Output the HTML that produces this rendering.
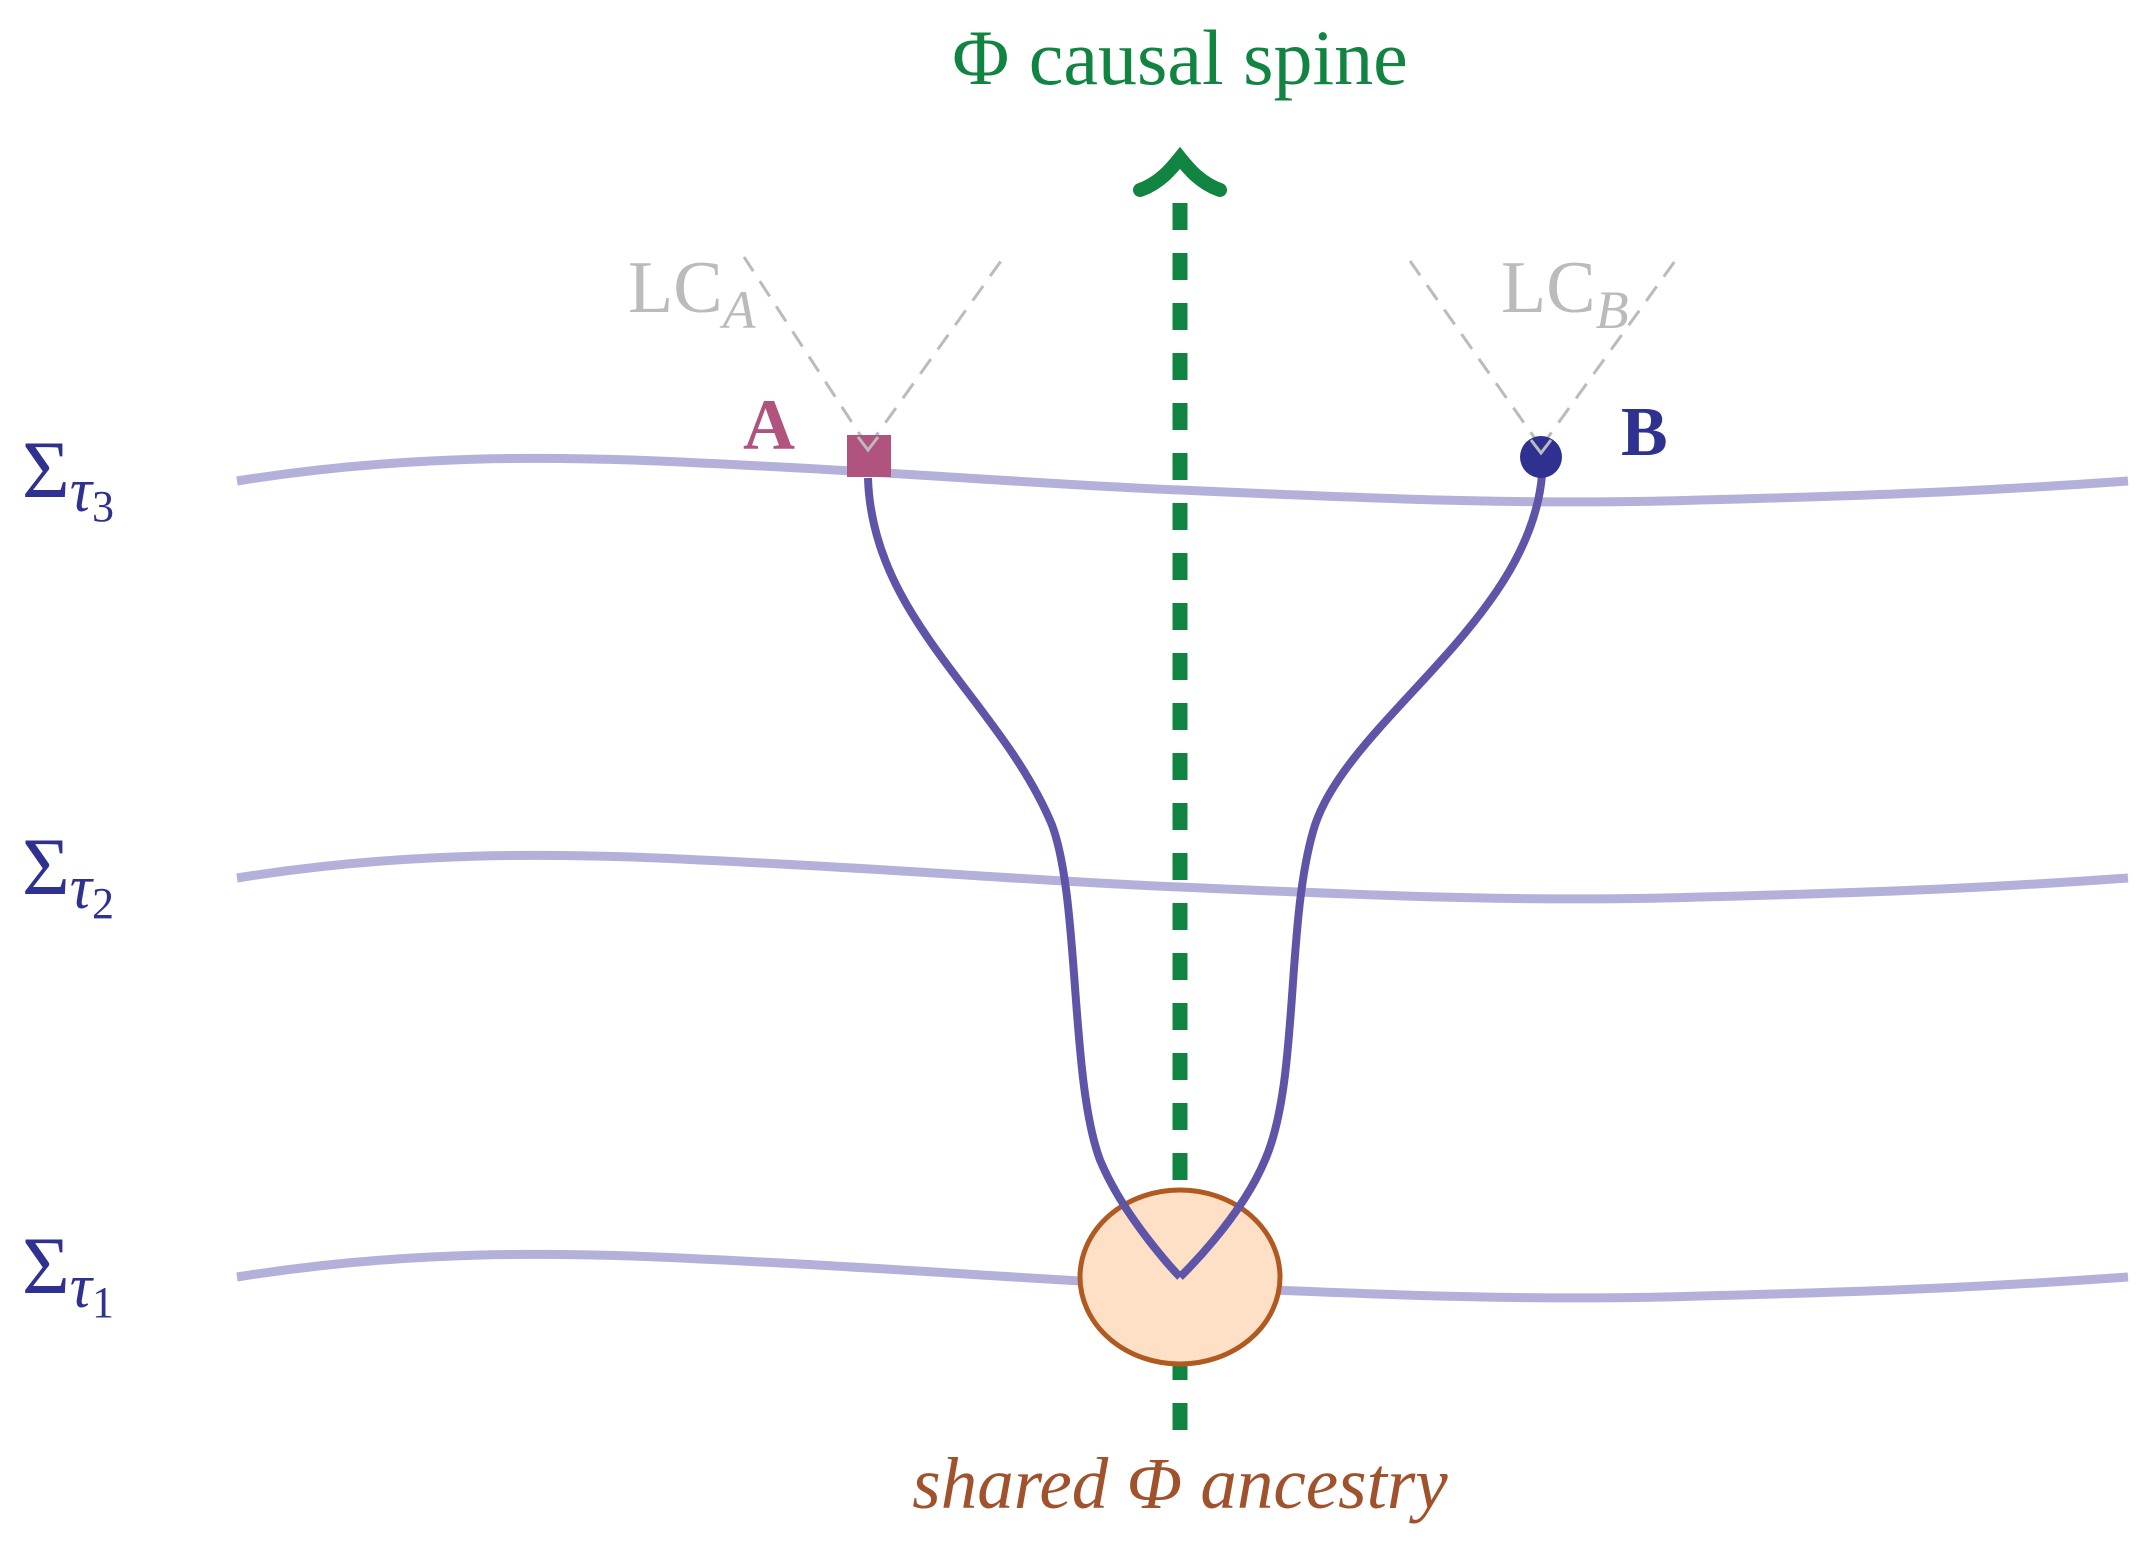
<!DOCTYPE html>
<html><head><meta charset="utf-8"><style>
html,body{margin:0;padding:0;background:#fff}
svg{display:block}
text{font-family:"Liberation Serif",serif}
</style></head><body>
<svg width="2150" height="1555" viewBox="0 0 2150 1555" xmlns="http://www.w3.org/2000/svg">
<g fill="none" stroke="#b3b0da" stroke-width="9">
<path d="M237,481 C400,455 550,455 700,463 C900,472 1050,485 1180,490 C1400,500 1550,505 1700,500 C1900,495 2000,490 2128,481"/>
<path d="M237,878 C400,852 550,852 700,860 C900,869 1050,882 1180,887 C1400,897 1550,902 1700,897 C1900,892 2000,887 2128,878"/>
<path d="M237,1277 C400,1251 550,1251 700,1259 C900,1268 1050,1281 1180,1286 C1400,1296 1550,1301 1700,1296 C1900,1291 2000,1286 2128,1277"/>
</g>
<line x1="1180" y1="1430" x2="1180" y2="196" stroke="#118442" stroke-width="15" stroke-dasharray="27 23"/>
<path d="M1140,190 C1160,183 1172,168 1180,158 C1188,168 1200,183 1220,190" fill="none" stroke="#118442" stroke-width="14" stroke-linecap="round"/>
<ellipse cx="1180" cy="1277" rx="100" ry="87" fill="#fde0c5" stroke="#b05a22" stroke-width="5"/>
<g stroke="#bbbbbb" stroke-width="3" stroke-dasharray="18 12" fill="none">
<line x1="868" y1="447" x2="744" y2="257"/><line x1="868" y1="447" x2="1001" y2="261"/>
<line x1="1541" y1="447" x2="1410" y2="261"/><line x1="1541" y1="447" x2="1675" y2="261"/>
</g>
<g fill="none" stroke="#5e55a8" stroke-width="8">
<path d="M868,478 C872,620 1000,700 1052,825 C1080,900 1070,1080 1100,1160 C1125,1220 1180,1277 1180,1277"/>
<path d="M1542,475 C1530,620 1350,720 1315,825 C1285,920 1300,1080 1265,1160 C1240,1220 1180,1277 1180,1277"/>
</g>
<rect x="847" y="435" width="44" height="42" fill="#b0547f"/>
<circle cx="1541" cy="457" r="21" fill="#2e3190"/>
<g stroke="#bbbbbb" stroke-width="3" fill="none"><path d="M858,437 L868,450 L878,437"/><path d="M1531,440 L1541,453 L1551,440"/></g>
<text x="1180" y="84" text-anchor="middle" font-size="78" fill="#118442">Φ causal spine</text>
<text x="628" y="312" font-size="74" fill="#bbbbbb">LC<tspan font-size="54" font-style="italic" dy="16">A</tspan></text>
<text x="1501" y="312" font-size="74" fill="#bbbbbb">LC<tspan font-size="54" font-style="italic" dy="16">B</tspan></text>
<text x="743" y="449" font-size="72" font-weight="bold" fill="#b0547f">A</text>
<text x="1621" y="455" font-size="70" font-weight="bold" fill="#2e3190">B</text>
<g fill="#2e3190" font-size="82">
<text x="22" y="497">Σ<tspan font-style="italic" font-size="62" dy="14">τ</tspan><tspan font-size="44" dy="10">3</tspan></text>
<text x="22" y="894">Σ<tspan font-style="italic" font-size="62" dy="14">τ</tspan><tspan font-size="44" dy="10">2</tspan></text>
<text x="22" y="1293">Σ<tspan font-style="italic" font-size="62" dy="14">τ</tspan><tspan font-size="44" dy="10">1</tspan></text>
</g>
<text x="1180" y="1508" text-anchor="middle" font-size="73" font-style="italic" fill="#a0522d">shared Φ ancestry</text>
</svg>
</body></html>
